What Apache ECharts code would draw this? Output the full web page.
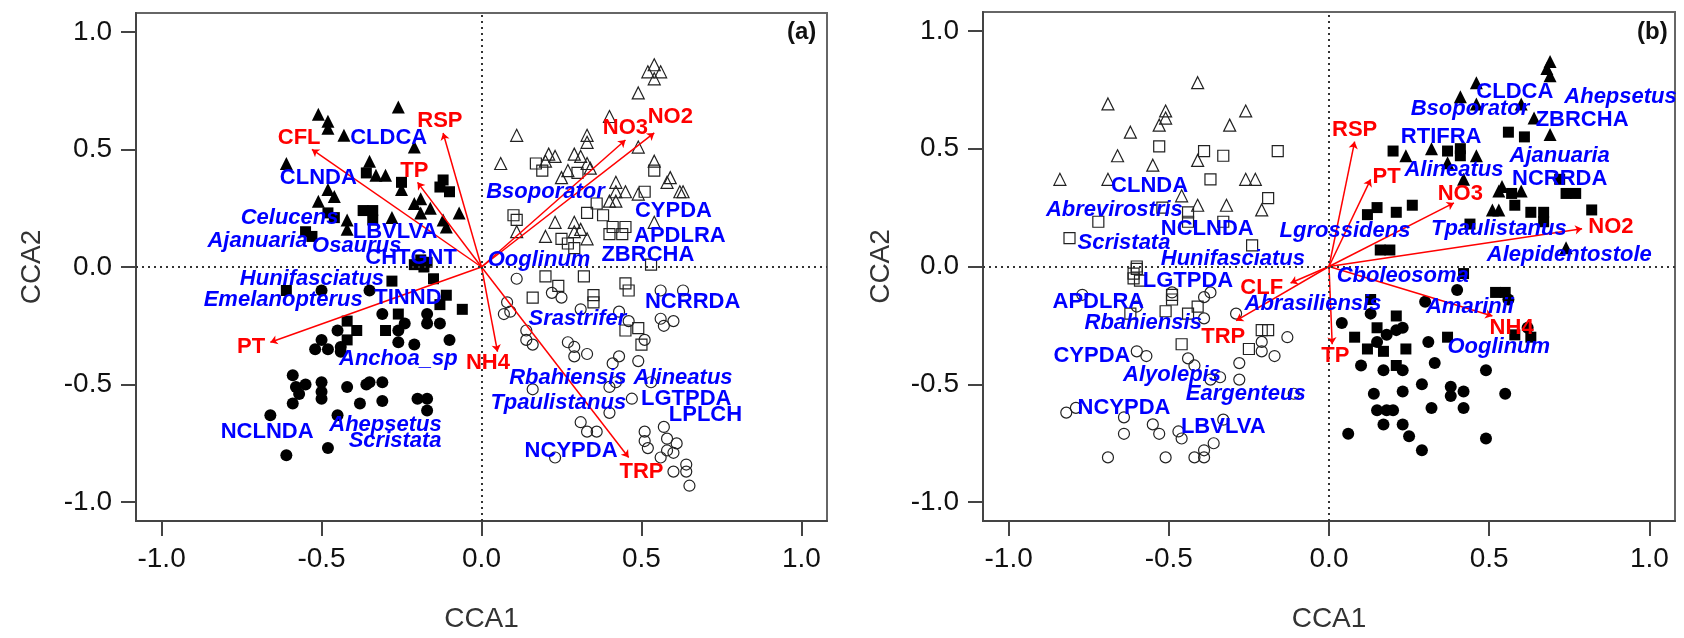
<!DOCTYPE html>
<html>
<head>
<meta charset="utf-8">
<title>CCA biplots</title>
<script src="https://cdn.jsdelivr.net/npm/echarts@6/dist/echarts.min.js"></script>
<style>
  html, body { margin: 0; padding: 0; background: #fff; }
  #chart { width: 1684px; height: 638px; }
</style>
</head>
<body>
<div id="chart"></div>
<script>
// tick values shared by both panels
const ticks = [-1.0, -0.5, 0.0, 0.5, 1.0];

// ---- panel (a) ----
const aFillTri = [[-0.51,0.65],[-0.48,0.62],[-0.48,0.59],[-0.26,0.68],[-0.43,0.56],[-0.21,0.51],[-0.61,0.44],[-0.35,0.45],[-0.33,0.39],[-0.30,0.39],[-0.25,0.33],[-0.48,0.33],[-0.46,0.30],[-0.51,0.28],[-0.19,0.29],[-0.21,0.27],[-0.16,0.25],[-0.19,0.23],[-0.07,0.23],[-0.42,0.20],[-0.28,0.21],[-0.12,0.20],[-0.11,0.17],[-0.42,0.16]];
const aFillSq = [[-0.36,0.40],[-0.25,0.36],[-0.12,0.37],[-0.13,0.34],[-0.10,0.32],[-0.37,0.24],[-0.34,0.24],[-0.34,0.20],[-0.48,0.23],[-0.46,0.21],[-0.55,0.15],[-0.53,0.13],[-0.19,0.03],[-0.17,0.02],[-0.21,0.01],[-0.18,0.00],[-0.15,-0.05],[-0.28,-0.06],[-0.61,-0.10],[-0.11,-0.12],[-0.13,-0.16],[-0.06,-0.18],[-0.26,-0.20],[-0.30,-0.27],[-0.42,-0.23],[-0.39,-0.27],[-0.42,-0.31]];
const aFillCirc = [[-0.50,-0.10],[-0.35,-0.10],[-0.31,-0.20],[-0.17,-0.20],[-0.17,-0.24],[-0.13,-0.24],[-0.24,-0.24],[-0.26,-0.27],[-0.10,-0.31],[-0.26,-0.32],[-0.21,-0.33],[-0.45,-0.27],[-0.50,-0.31],[-0.52,-0.35],[-0.48,-0.35],[-0.44,-0.34],[-0.44,-0.36],[-0.59,-0.46],[-0.58,-0.51],[-0.57,-0.54],[-0.55,-0.50],[-0.59,-0.58],[-0.50,-0.49],[-0.50,-0.53],[-0.50,-0.56],[-0.42,-0.51],[-0.36,-0.50],[-0.35,-0.49],[-0.31,-0.49],[-0.31,-0.57],[-0.38,-0.58],[-0.20,-0.56],[-0.17,-0.56],[-0.17,-0.61],[-0.66,-0.63],[-0.45,-0.63],[-0.48,-0.77],[-0.61,-0.80]];
const aOpenTri = [[0.54,0.86],[0.52,0.83],[0.56,0.83],[0.54,0.80],[0.49,0.74],[0.40,0.64],[0.11,0.56],[0.33,0.56],[0.33,0.53],[0.49,0.51],[0.06,0.44],[0.21,0.48],[0.23,0.47],[0.29,0.48],[0.31,0.47],[0.20,0.45],[0.33,0.44],[0.34,0.42],[0.54,0.45],[0.27,0.41],[0.25,0.38],[0.42,0.36],[0.59,0.38],[0.58,0.36],[0.62,0.32],[0.63,0.32],[0.42,0.32],[0.45,0.32],[0.49,0.31],[0.42,0.28],[0.40,0.28],[0.54,0.19],[0.23,0.19],[0.29,0.19],[0.31,0.16],[0.20,0.13],[0.33,0.12],[0.29,0.15],[0.11,0.15]];
const aOpenSq = [[0.17,0.44],[0.19,0.41],[0.30,0.40],[0.54,0.41],[0.51,0.32],[0.10,0.22],[0.11,0.20],[0.36,0.27],[0.33,0.23],[0.38,0.22],[0.41,0.17],[0.40,0.14],[0.45,0.17],[0.44,0.14],[0.25,0.12],[0.27,0.10],[0.29,0.08],[0.53,0.01],[0.20,-0.04],[0.32,-0.04],[0.24,-0.08],[0.16,-0.13],[0.35,-0.12],[0.35,-0.15],[0.45,-0.07],[0.46,-0.10],[0.45,-0.27],[0.49,-0.26],[0.50,-0.33]];
const aOpenCirc = [[0.11,-0.05],[0.08,-0.15],[0.07,-0.20],[0.09,-0.19],[0.22,-0.11],[0.25,-0.13],[0.31,-0.18],[0.43,-0.19],[0.46,-0.23],[0.56,-0.10],[0.63,-0.10],[0.56,-0.22],[0.57,-0.25],[0.60,-0.23],[0.14,-0.27],[0.14,-0.31],[0.16,-0.33],[0.27,-0.32],[0.29,-0.34],[0.29,-0.38],[0.33,-0.37],[0.43,-0.38],[0.41,-0.41],[0.49,-0.40],[0.51,-0.31],[0.16,-0.52],[0.40,-0.51],[0.42,-0.49],[0.53,-0.49],[0.47,-0.56],[0.40,-0.62],[0.31,-0.66],[0.33,-0.70],[0.36,-0.70],[0.51,-0.70],[0.57,-0.68],[0.58,-0.73],[0.51,-0.74],[0.52,-0.77],[0.61,-0.75],[0.58,-0.78],[0.60,-0.79],[0.56,-0.81],[0.23,-0.81],[0.60,-0.87],[0.64,-0.84],[0.64,-0.87],[0.65,-0.93]];
const aEnvNames = ['CFL','RSP','TP','NO3','NO2','PT','NH4','TRP'];
const aEnvVec = [[-0.53,0.50],[-0.12,0.57],[-0.20,0.36],[0.45,0.54],[0.54,0.57],[-0.66,-0.32],[0.05,-0.36],[0.46,-0.81]];
const aEnvLab = [[-0.57,0.55],[-0.13,0.62],[-0.21,0.41],[0.45,0.59],[0.59,0.64],[-0.72,-0.34],[0.02,-0.41],[0.50,-0.87]];
const aSpNames = ['CLDCA','CLNDA','LBVLVA','CHTGNT','TINND','NCLNDA','CYPDA','APDLRA','ZBRCHA','NCRRDA','LGTPDA','LPLCH','NCYPDA'];
const aSpPos = [[-0.29,0.55],[-0.51,0.38],[-0.27,0.15],[-0.22,0.04],[-0.23,-0.13],[-0.67,-0.70],[0.60,0.24],[0.62,0.13],[0.52,0.05],[0.66,-0.15],[0.64,-0.56],[0.70,-0.63],[0.28,-0.78]];
const aItNames = ['Celucens','Ajanuaria','Osaurus','Hunifasciatus','Emelanopterus','Anchoa_sp','Ahepsetus','Scristata','Bsoporator','Ooglinum','Srastrifer','Rbahiensis','Alineatus','Tpaulistanus'];
const aItPos = [[-0.60,0.21],[-0.70,0.11],[-0.39,0.09],[-0.53,-0.05],[-0.62,-0.14],[-0.26,-0.39],[-0.30,-0.67],[-0.27,-0.74],[0.20,0.32],[0.18,0.03],[0.30,-0.22],[0.27,-0.47],[0.63,-0.47],[0.24,-0.58]];

// ---- panel (b) ----
const bFillTri = [[0.69,0.87],[0.68,0.84],[0.69,0.81],[0.46,0.78],[0.41,0.72],[0.46,0.69],[0.60,0.69],[0.64,0.63],[0.69,0.56],[0.32,0.50],[0.24,0.47],[0.37,0.44],[0.46,0.47],[0.42,0.37],[0.54,0.34],[0.53,0.32],[0.60,0.32],[0.51,0.24],[0.53,0.24],[0.74,0.08]];
const bFillSq = [[0.56,0.57],[0.61,0.55],[0.20,0.49],[0.37,0.49],[0.41,0.50],[0.41,0.47],[0.72,0.37],[0.74,0.31],[0.77,0.31],[0.57,0.31],[0.58,0.26],[0.63,0.23],[0.67,0.23],[0.67,0.19],[0.82,0.24],[0.26,0.26],[0.21,0.23],[0.15,0.25],[0.12,0.22],[0.44,0.18],[0.16,0.07],[0.19,0.07],[0.42,-0.03],[0.52,-0.11],[0.55,-0.11],[0.13,-0.14],[0.21,-0.21],[0.15,-0.26],[0.08,-0.30],[0.12,-0.35],[0.17,-0.36],[0.24,-0.35],[0.21,-0.42],[0.37,-0.30],[0.58,-0.29],[0.63,-0.30]];
const bFillCirc = [[0.40,-0.10],[0.56,-0.14],[0.30,-0.15],[0.13,-0.20],[0.04,-0.24],[0.23,-0.26],[0.21,-0.27],[0.18,-0.29],[0.15,-0.32],[0.31,-0.32],[0.62,-0.26],[0.33,-0.41],[0.10,-0.42],[0.17,-0.44],[0.23,-0.44],[0.49,-0.44],[0.29,-0.50],[0.14,-0.54],[0.23,-0.53],[0.38,-0.51],[0.38,-0.55],[0.42,-0.53],[0.55,-0.54],[0.15,-0.61],[0.18,-0.61],[0.20,-0.61],[0.32,-0.60],[0.42,-0.60],[0.17,-0.67],[0.23,-0.67],[0.06,-0.71],[0.25,-0.72],[0.49,-0.73],[0.29,-0.78]];
const bOpenTri = [[-0.41,0.78],[-0.69,0.69],[-0.51,0.66],[-0.51,0.63],[-0.53,0.60],[-0.26,0.66],[-0.31,0.60],[-0.62,0.57],[-0.66,0.47],[-0.55,0.43],[-0.41,0.45],[-0.84,0.37],[-0.69,0.37],[-0.26,0.37],[-0.23,0.37],[-0.46,0.30],[-0.41,0.26],[-0.32,0.26],[-0.21,0.24]];
const bOpenSq = [[-0.53,0.51],[-0.39,0.49],[-0.33,0.47],[-0.16,0.49],[-0.37,0.37],[-0.19,0.29],[-0.52,0.25],[-0.44,0.23],[-0.44,0.19],[-0.33,0.19],[-0.72,0.19],[-0.81,0.12],[-0.24,0.09],[-0.60,0.00],[-0.60,-0.01],[-0.61,-0.03],[-0.61,-0.05],[-0.59,-0.06],[-0.49,-0.12],[-0.49,-0.14],[-0.62,-0.20],[-0.51,-0.19],[-0.44,-0.20],[-0.41,-0.17],[-0.46,-0.33],[-0.21,-0.27],[-0.19,-0.27],[-0.25,-0.35]];
const bOpenCirc = [[-0.77,-0.12],[-0.60,-0.17],[-0.49,-0.11],[-0.39,-0.13],[-0.37,-0.11],[-0.39,-0.22],[-0.29,-0.20],[-0.13,-0.30],[-0.21,-0.32],[-0.21,-0.36],[-0.17,-0.38],[-0.28,-0.41],[-0.28,-0.48],[-0.60,-0.36],[-0.57,-0.38],[-0.44,-0.39],[-0.42,-0.42],[-0.37,-0.48],[-0.34,-0.47],[-0.11,-0.54],[-0.82,-0.62],[-0.79,-0.60],[-0.64,-0.64],[-0.64,-0.71],[-0.55,-0.67],[-0.53,-0.71],[-0.47,-0.70],[-0.46,-0.73],[-0.33,-0.65],[-0.36,-0.75],[-0.39,-0.78],[-0.69,-0.81],[-0.51,-0.81],[-0.42,-0.81],[-0.39,-0.81]];
const bEnvNames = ['RSP','PT','NO3','NO2','NH4','TP','CLF','TRP'];
const bEnvVec = [[0.08,0.53],[0.13,0.37],[0.39,0.27],[0.79,0.16],[0.51,-0.21],[0.01,-0.33],[-0.12,-0.07],[-0.29,-0.23]];
const bEnvLab = [[0.08,0.58],[0.18,0.38],[0.41,0.31],[0.88,0.17],[0.57,-0.26],[0.02,-0.38],[-0.21,-0.09],[-0.33,-0.30]];
const bSpNames = ['CLNDA','NCLNDA','LGTPDA','APDLRA','CYPDA','NCYPDA','LBVLVA','CLDCA','ZBRCHA','RTIFRA','NCRRDA'];
const bSpPos = [[-0.56,0.34],[-0.38,0.16],[-0.44,-0.06],[-0.72,-0.15],[-0.74,-0.38],[-0.64,-0.60],[-0.33,-0.68],[0.58,0.74],[0.79,0.62],[0.35,0.55],[0.72,0.37]];
const bItNames = ['Abrevirostris','Scristata','Hunifasciatus','Lgrossidens','Rbahiensis','Alyolepis','Eargenteus','Abrasiliensis','Ahepsetus','Bsoporator','Ajanuaria','Alineatus','Tpaulistanus','Alepidentostole','Cboleosoma','Amarinii','Ooglinum'];
const bItPos = [[-0.67,0.24],[-0.64,0.10],[-0.30,0.03],[0.05,0.15],[-0.58,-0.24],[-0.49,-0.46],[-0.26,-0.54],[-0.05,-0.16],[0.91,0.72],[0.44,0.67],[0.72,0.47],[0.39,0.41],[0.53,0.16],[0.75,0.05],[0.23,-0.04],[0.44,-0.17],[0.53,-0.34]];

const narrow = '"Liberation Sans Narrow", "Arial Narrow", "Liberation Sans", sans-serif';
const bold = '"Liberation Sans", Arial, sans-serif';

function pts(i, data, symbol, filled, size) {
    return {
        type: 'scatter', xAxisIndex: i, yAxisIndex: i, data: data,
        symbol: symbol, symbolSize: size, silent: true, z: 3,
        itemStyle: filled
            ? { color: '#000', opacity: 1 }
            : { color: 'rgba(0,0,0,0)', borderColor: '#222', borderWidth: 1.2, opacity: 1 }
    };
}

function labels(i, names, pos, color, italic) {
    return {
        type: 'scatter', xAxisIndex: i, yAxisIndex: i, silent: true, z: 6,
        symbolSize: 0,
        itemStyle: { color: 'rgba(0,0,0,0)', opacity: 1 },
        data: pos.map((p, k) => [p[0], p[1], names[k]]),
        label: {
            show: true, position: 'inside',
            formatter: p => p.value[2],
            color: color, fontSize: 22, fontWeight: 'bold',
            fontStyle: italic ? 'italic' : 'normal', fontFamily: bold
        }
    };
}

function arrows(i, vec) {
    return {
        type: 'lines', coordinateSystem: 'cartesian2d', xAxisIndex: i, yAxisIndex: i,
        silent: true, z: 4,
        symbol: ['none', 'arrow'], symbolSize: 7,
        lineStyle: { color: '#ff0000', width: 1.5, opacity: 1 },
        data: vec.map(v => ({ coords: [[0, 0], v] })),
        markLine: {
            silent: true, symbol: 'none', label: { show: false },
            lineStyle: { type: [2, 4], color: '#333', width: 2 },
            data: [{ xAxis: 0 }, { yAxis: 0 }]
        }
    };
}

function axis(i, name, gap) {
    return {
        type: 'value', gridIndex: i, min: -1.08, max: 1.08,
        name: name, nameLocation: 'middle', nameGap: gap,
        nameTextStyle: { fontSize: 28, fontFamily: narrow, color: '#333' },
        axisLine: { show: true, onZero: false, lineStyle: { color: '#444', width: 2 } },
        axisTick: { show: true, customValues: ticks, length: 15, lineStyle: { color: '#444', width: 2 } },
        axisLabel: {
            customValues: ticks, margin: 24, fontSize: 28, fontFamily: narrow, color: '#111',
            formatter: v => v.toFixed(1)
        },
        splitLine: { show: false }
    };
}

const chart = echarts.init(document.getElementById('chart'));
chart.setOption({
    animation: false,
    backgroundColor: '#fff',
    grid: [
        { left: 136, top: 13, width: 691, height: 511, show: true, borderColor: '#666', borderWidth: 2 },
        { left: 983, top: 12, width: 692, height: 512, show: true, borderColor: '#666', borderWidth: 2 }
    ],
    xAxis: [axis(0, 'CCA1', 84), axis(1, 'CCA1', 84)],
    yAxis: [axis(0, 'CCA2', 90), axis(1, 'CCA2', 88)],
    graphic: [
        { type: 'text', left: 787, top: 20, style: { text: '(a)', fontSize: 24, fontWeight: 'bold', fontFamily: bold, fill: '#111' } },
        { type: 'text', left: 1637, top: 20, style: { text: '(b)', fontSize: 24, fontWeight: 'bold', fontFamily: bold, fill: '#111' } }
    ],
    series: [
        arrows(0, aEnvVec),
        pts(0, aFillTri, 'triangle', true, 13),
        pts(0, aFillSq, 'rect', true, 11),
        pts(0, aFillCirc, 'circle', true, 12),
        pts(0, aOpenTri, 'triangle', false, 12),
        pts(0, aOpenSq, 'rect', false, 11),
        pts(0, aOpenCirc, 'circle', false, 11),
        labels(0, aEnvNames, aEnvLab, '#ff0000', false),
        labels(0, aSpNames, aSpPos, '#0000ff', false),
        labels(0, aItNames, aItPos, '#0000ff', true),

        arrows(1, bEnvVec),
        pts(1, bFillTri, 'triangle', true, 13),
        pts(1, bFillSq, 'rect', true, 11),
        pts(1, bFillCirc, 'circle', true, 12),
        pts(1, bOpenTri, 'triangle', false, 12),
        pts(1, bOpenSq, 'rect', false, 11),
        pts(1, bOpenCirc, 'circle', false, 11),
        labels(1, bEnvNames, bEnvLab, '#ff0000', false),
        labels(1, bSpNames, bSpPos, '#0000ff', false),
        labels(1, bItNames, bItPos, '#0000ff', true)
    ]
});
</script>
</body>
</html>
